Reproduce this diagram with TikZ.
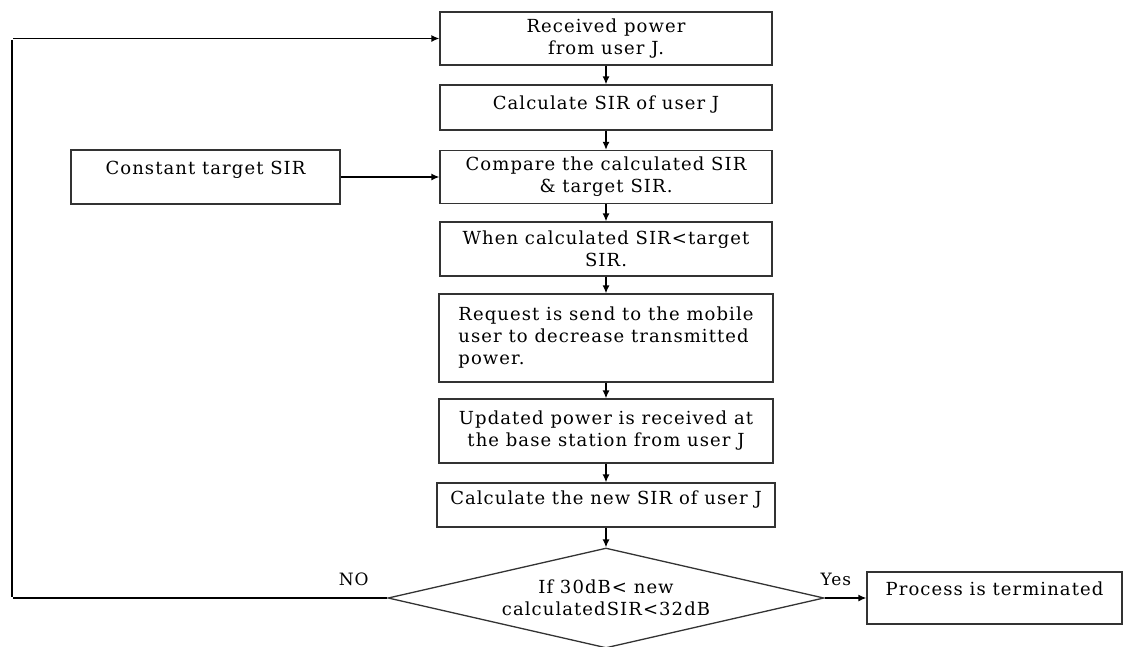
\documentclass[tikz,border=0pt]{standalone}
\usepackage{fontspec}
\setmainfont[LetterSpace=6]{DejaVu Serif}
\usepackage{tikz}
\usetikzlibrary{shapes,arrows,arrows.meta}
\tikzstyle{invis} = [draw=none, inner sep=0pt]
\tikzstyle{block} = [draw=black!80, line width=1.3pt, rectangle, inner sep=0pt, align=center, font=\fontsize{18}{22}\selectfont]
\tikzstyle{decision} = [draw=black!80, line width=1.3pt, diamond, aspect=4.36, inner sep=0pt, align=center, font=\fontsize{18}{22}\selectfont]
\tikzstyle{lbl} = [draw=none, font=\fontsize{17}{20}\selectfont]

\begin{document}
\begin{tikzpicture}[->,>={Latex[length=8pt,width=7pt]},line width=1.3pt,x=1pt,y=-1pt]

    \useasboundingbox (0,0) rectangle (1130,646);

    \node[block] at (606,38.5) (b1) [minimum width=332pt, minimum height=53pt] {Received power\\from user J.};
    \node[block] at (606,107.5) (b2) [minimum width=332pt, minimum height=45pt, text depth=10pt] {Calculate SIR of user J};
    \node[block] at (606,177) (b3) [minimum width=332pt, minimum height=53pt] {Compare the calculated SIR\\\& target SIR.};
    \node[block] at (606,249) (b4) [minimum width=332pt, minimum height=54pt] {When calculated SIR<target\\SIR.};
    \node[block] at (606,338) (b5) [minimum width=334pt, minimum height=88pt, align=left] {Request is send to the mobile\\user to decrease transmitted\\power.};
    \node[block] at (606,431) (b6) [minimum width=334pt, minimum height=64pt] {Updated power is received at\\the base station from user J};
    \node[block] at (606,505) (b7) [minimum width=338pt, minimum height=44pt, text depth=14pt] {Calculate the new SIR of user J};

    \path
    (b1) edge [] node {} (b2)
    (b2) edge [] node {} (b3)
    (b3) edge [] node {} (b4)
    (b4) edge [] node {} (b5)
    (b5) edge [] node {} (b6)
    (b6) edge [] node {} (b7);

    %=====================

    \node[block] at (205.5,177) (tgt) [minimum width=269pt, minimum height=54pt, text depth=18pt] {Constant target SIR};

    \path
    (tgt) edge [] node {} (b3);

    %=====================

    \node[decision] at (606,598) (dec) [minimum width=436pt, minimum height=100pt] {If 30dB< new\\calculatedSIR<32dB};
    \node[block] at (994.5,598) (fin) [minimum width=255pt, minimum height=52pt, text depth=18pt] {Process is terminated};

    \path
    (b7) edge [] node {} (dec)
    (dec) edge [] node [lbl, above=8pt, pos=0.27] {Yes} (fin);

    \node[invis] at (12,598) (l1) [] {};
    \node[invis] at (12,38.5) (l2) [] {};

    \path
    (dec.west) edge [-] node [lbl, above=8pt, pos=0.09] {NO} (l1)
    (l1) edge [-] node {} (l2)
    (l2) edge [] node {} (b1);

\end{tikzpicture}
\end{document}
